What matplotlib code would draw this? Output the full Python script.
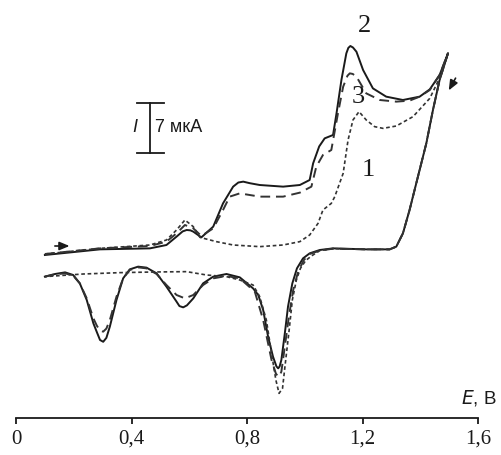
import matplotlib
matplotlib.use("Agg")
import matplotlib.pyplot as plt

# ---- data (E in V, I in uA) ----
# curve 2 (solid)
E2_fwd = [0.100, 0.291, 0.464, 0.521, 0.556, 0.577, 0.591, 0.604, 0.614, 0.642, 0.683, 0.717, 0.752,
          0.770, 0.787, 0.810, 0.844, 0.925, 0.983, 1.017, 1.029, 1.050, 1.069, 1.098, 1.110, 1.127,
          1.144, 1.151, 1.158, 1.167, 1.179, 1.202, 1.236, 1.282, 1.340, 1.398, 1.433, 1.467, 1.496]
I2_fwd = [0.00, 0.79, 0.93, 1.40, 2.57, 3.30, 3.50, 3.45, 3.27, 2.47, 3.97, 7.23, 9.57,
          10.15, 10.27, 10.05, 9.80, 9.57, 9.80, 10.50, 12.83, 15.20, 16.33, 16.80, 19.83, 24.50,
          28.23, 29.00, 29.26, 29.05, 28.46, 25.90, 23.33, 22.17, 21.70, 22.17, 23.19, 25.20, 28.23]
E2_rev = [1.496, 1.467, 1.444, 1.421, 1.392, 1.363, 1.340, 1.317, 1.294, 1.213, 1.098, 1.052, 1.017,
          0.994, 0.973, 0.957, 0.942, 0.931, 0.919, 0.913, 0.908, 0.902, 0.890, 0.873, 0.856, 0.839,
          0.821, 0.775, 0.729, 0.683, 0.648, 0.614, 0.592, 0.579, 0.566, 0.556, 0.521, 0.487, 0.452,
          0.423, 0.394, 0.371, 0.348, 0.325, 0.313, 0.302, 0.291, 0.280, 0.268, 0.245, 0.221, 0.198,
          0.170, 0.135, 0.100]
I2_rev = [28.23, 24.50, 20.30, 15.63, 10.97, 6.30, 3.03, 1.17, 0.79, 0.79, 0.93, 0.70, 0.23,
          -0.47, -1.87, -3.97, -7.23, -10.97, -14.70, -15.60, -15.87, -15.60, -14.23, -11.43, -7.70, -5.60,
          -4.67, -3.13, -2.66, -3.03, -3.97, -6.07, -7.05, -7.33, -7.15, -6.53, -4.43, -2.57, -1.77,
          -1.63, -2.01, -3.27, -6.30, -10.03, -11.60, -12.15, -11.90, -10.80, -9.57, -6.30, -3.97, -2.80,
          -2.43, -2.66, -3.03]

# curve 3 (dashed)
E3_fwd = [0.100, 0.291, 0.464, 0.521, 0.556, 0.585, 0.614, 0.642, 0.683, 0.717, 0.740, 0.775, 0.844,
          0.925, 0.983, 1.023, 1.040, 1.063, 1.092, 1.115, 1.133, 1.148, 1.156, 1.166, 1.179, 1.213,
          1.260, 1.317, 1.363, 1.398, 1.433, 1.467, 1.496]
I3_fwd = [0.14, 0.93, 1.26, 1.87, 3.03, 4.20, 3.73, 2.66, 3.73, 6.30, 8.17, 8.63, 8.17,
          8.17, 8.73, 9.57, 12.37, 14.00, 14.70, 19.83, 23.56, 25.10, 25.43, 25.35, 24.97, 22.63,
          21.70, 21.47, 21.61, 22.17, 23.10, 25.20, 28.23]
E3_rev = [1.496, 1.467, 1.444, 1.421, 1.392, 1.363, 1.340, 1.317, 1.294, 1.213, 1.098, 1.052, 1.017,
          0.997, 0.977, 0.960, 0.945, 0.931, 0.919, 0.913, 0.908, 0.900, 0.885, 0.856, 0.827, 0.775,
          0.729, 0.683, 0.648, 0.614, 0.585, 0.556, 0.521, 0.487, 0.452, 0.423, 0.394, 0.371, 0.348,
          0.325, 0.313, 0.302, 0.291, 0.280, 0.268, 0.245, 0.221, 0.198, 0.170, 0.135, 0.100]
I3_rev = [28.23, 24.50, 20.30, 15.63, 10.97, 6.30, 3.03, 1.17, 0.79, 0.79, 0.89, 0.61, 0.14,
          -0.70, -2.33, -4.90, -8.63, -12.83, -16.33, -16.90, -17.03, -16.60, -14.70, -9.10, -5.13, -3.27,
          -2.94, -3.27, -4.20, -5.60, -6.07, -5.60, -4.20, -2.66, -1.87, -1.73, -2.10, -3.27, -5.83,
          -9.10, -10.30, -10.73, -10.60, -9.90, -8.87, -6.07, -3.97, -2.89, -2.57, -2.71, -3.03]

# curve 1 (dotted)
E1_fwd = [0.100, 0.291, 0.464, 0.521, 0.556, 0.585, 0.614, 0.637, 0.694, 0.752, 0.844, 0.925, 0.983,
          1.017, 1.046, 1.063, 1.092, 1.104, 1.133, 1.150, 1.167, 1.188, 1.213, 1.242, 1.271, 1.317,
          1.375, 1.433, 1.461, 1.496]
I1_fwd = [0.14, 0.93, 1.40, 2.10, 3.50, 4.90, 3.97, 2.47, 1.87, 1.40, 1.17, 1.40, 1.87,
          2.80, 4.43, 6.30, 7.23, 8.17, 11.43, 16.10, 18.90, 20.07, 18.90, 17.97, 17.73, 18.06,
          19.37, 21.93, 24.27, 28.23]
E1_rev = [1.496, 1.467, 1.444, 1.421, 1.392, 1.363, 1.340, 1.317, 1.294, 1.213, 1.098, 1.052, 1.023,
          1.003, 0.985, 0.971, 0.957, 0.946, 0.934, 0.923, 0.911, 0.900, 0.885, 0.867, 0.844, 0.821,
          0.775, 0.729, 0.660, 0.591, 0.475, 0.360, 0.233, 0.100]
I1_rev = [28.23, 24.50, 20.30, 15.63, 10.97, 6.30, 3.03, 1.17, 0.79, 0.79, 0.89, 0.61, -0.14,
          -0.79, -1.87, -3.50, -6.30, -10.50, -14.70, -18.67, -19.37, -17.50, -13.77, -9.10, -5.83, -4.20,
          -3.50, -3.03, -2.80, -2.33, -2.38, -2.47, -2.66, -3.03]

x_ticks = [0, 0.4, 0.8, 1.2, 1.6]
x_ticklabels = ["0", "0,4", "0,8", "1,2", "1,6"]
curve_labels = ["1", "2", "3"]
scale_bar_uA = 7

# ---- figure ----
W, H = 501, 455
fig = plt.figure(figsize=(W / 100, H / 100), dpi=100)
ax = fig.add_axes([16 / W, 37 / H, 462 / W, 408 / H])
ax.set_xlim(0, 1.6)
ax.set_ylim(-22.82, 34.30)

col = "#1a1a1a"
ax.plot(E2_fwd + E2_rev[1:], I2_fwd + I2_rev[1:], color=col, lw=1.4,
        solid_joinstyle="round")
ax.plot(E3_fwd + E3_rev[1:], I3_fwd + I3_rev[1:], color="#333333", lw=1.4, dashes=(5, 3))
ax.plot(E1_fwd + E1_rev[1:], I1_fwd + I1_rev[1:], color="#333333", lw=1.2, dashes=(2.2, 1.6))

for s in ["left", "right", "top"]:
    ax.spines[s].set_visible(False)
ax.spines["bottom"].set_linewidth(1.3)
ax.spines["bottom"].set_color(col)
ax.set_yticks([])
ax.set_xticks(x_ticks)
ax.set_xticklabels(x_ticklabels, fontfamily="Liberation Serif", fontsize=15, color=col)
ax.tick_params(axis="x", direction="out", length=4.5, width=1.3, color=col, pad=4)

# axis label
ax.text(1.665, -20.0, "$\\mathit{E}$, В", ha="right", va="center", fontsize=13.5,
        fontfamily="Liberation Sans", color=col, clip_on=False)

# scale bar
xb = 0.4654
ytop, ybot = 21.28, 21.28 - scale_bar_uA
ax.plot([xb, xb], [ybot, ytop], color=col, lw=1.3)
ax.plot([xb - 0.046, xb + 0.046], [ytop, ytop], color=col, lw=1.3)
ax.plot([xb - 0.046, xb + 0.046], [ybot, ybot], color=col, lw=1.3)
ax.text(0.412, 17.9, "I", style="italic", ha="center", va="center", fontsize=13,
        fontfamily="Liberation Sans", color=col)
ax.text(0.481, 17.9, f"{scale_bar_uA} мкА", ha="left", va="center", fontsize=13,
        fontfamily="Liberation Sans", color=col)

# curve labels
ax.text(1.219, 11.9, curve_labels[0], ha="center", va="center", fontsize=19,
        fontfamily="Liberation Serif", color=col)
ax.text(1.208, 32.06, curve_labels[1], ha="center", va="center", fontsize=19,
        fontfamily="Liberation Serif", color=col)
ax.text(1.184, 22.16, curve_labels[2], ha="center", va="center", fontsize=19,
        fontfamily="Liberation Serif", color=col)

# arrows
ax.annotate("", xy=(0.195, 1.26), xytext=(0.125, 1.26),
            arrowprops=dict(arrowstyle="-|>,head_length=0.6,head_width=0.25", color=col, lw=1.2))
ax.annotate("", xy=(1.494, 22.7), xytext=(1.527, 25.1),
            arrowprops=dict(arrowstyle="-|>,head_length=0.6,head_width=0.25", color=col, lw=1.2))

fig.savefig("out.png", dpi=100)
